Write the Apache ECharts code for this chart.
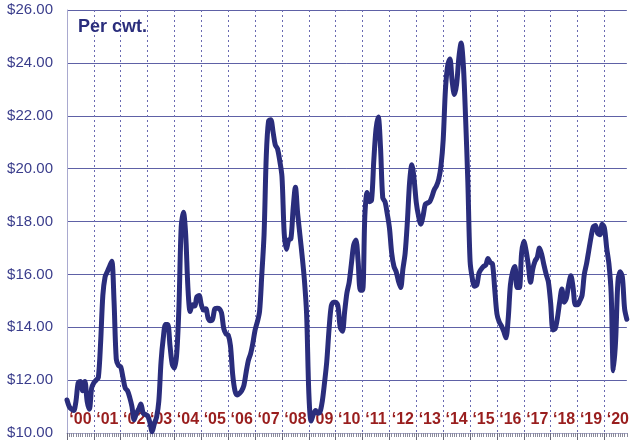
<!DOCTYPE html>
<html>
<head>
<meta charset="utf-8">
<script src="https://cdn.jsdelivr.net/npm/echarts@6/dist/echarts.min.js"></script>
<style>
html,body{margin:0;padding:0;background:#fff;}
#chart{width:632px;height:445px;}
</style>
</head>
<body>
<div id="chart"></div>
<script>
// Monthly price per cwt, Jan..Dec of each year (2020 ends in November)
var years = ['2000','2001','2002','2003','2004','2005','2006','2007','2008','2009','2010',
             '2011','2012','2013','2014','2015','2016','2017','2018','2019','2020'];
var yearLabels = ['‘00','‘01','‘02','‘03','‘04','‘05','‘06','‘07','‘08','‘09','‘10',
                  '‘11','‘12','‘13','‘14','‘15','‘16','‘17','‘18','‘19','‘20'];
var p2000 = [11.25, 11.0, 10.9, 10.85, 11.2, 11.9, 11.95, 11.6, 11.95, 11.2, 10.9, 11.7];
var p2001 = [11.9, 12.0, 12.1, 13.4, 15.2, 15.9, 16.1, 16.3, 16.5, 15.0, 12.8, 12.55];
var p2002 = [12.5, 12.1, 11.7, 11.6, 11.35, 11.0, 10.5, 10.75, 10.9, 11.1, 10.75, 10.7];
var p2003 = [10.65, 10.4, 10.05, 10.35, 10.6, 11.2, 12.7, 13.6, 14.1, 14.1, 13.3, 12.6];
var p2004 = [12.45, 13.0, 14.8, 17.8, 18.35, 17.5, 15.5, 14.6, 14.85, 14.8, 15.15, 15.2];
var p2005 = [14.85, 14.65, 14.7, 14.35, 14.25, 14.3, 14.7, 14.72, 14.7, 14.55, 13.95, 13.75];
var p2006 = [13.7, 13.3, 12.2, 11.6, 11.44, 11.5, 11.6, 11.8, 12.3, 12.75, 13.0, 13.4];
var p2007 = [13.9, 14.2, 14.6, 16.0, 17.5, 20.5, 21.8, 21.85, 21.4, 20.9, 20.75, 20.3];
var p2008 = [19.7, 17.55, 16.95, 17.3, 17.35, 18.5, 19.3, 18.3, 17.5, 16.7, 15.8, 14.5];
var p2009 = [11.5, 10.45, 10.7, 10.85, 10.75, 10.8, 11.2, 11.9, 12.7, 13.9, 14.8, 14.95];
var p2010 = [14.95, 14.8, 14.0, 13.85, 14.6, 15.3, 15.7, 16.4, 17.1, 17.3, 16.5, 15.4];
var p2011 = [15.4, 18.2, 19.1, 18.75, 18.8, 20.3, 21.5, 21.95, 20.8, 18.9, 18.75, 18.3];
var p2012 = [17.75, 16.8, 16.3, 16.1, 15.75, 15.5, 16.2, 16.8, 18.0, 19.5, 20.15, 19.6];
var p2013 = [18.7, 18.2, 17.9, 18.2, 18.65, 18.7, 18.75, 18.95, 19.2, 19.35, 19.6, 20.1];
var p2014 = [21.1, 23.0, 23.9, 24.15, 23.3, 22.8, 23.2, 24.2, 24.75, 23.9, 21.9, 19.5];
var p2015 = [16.5, 15.85, 15.55, 15.6, 16.05, 16.2, 16.3, 16.35, 16.6, 16.45, 16.4, 15.45];
var p2016 = [14.5, 14.2, 14.05, 13.85, 13.6, 14.3, 15.6, 16.1, 16.3, 15.5, 15.5, 16.8];
var p2017 = [17.25, 16.9, 16.35, 15.7, 16.2, 16.5, 16.65, 17.0, 16.75, 16.35, 16.0, 15.7];
var p2018 = [14.9, 13.9, 13.95, 14.35, 14.95, 15.45, 14.95, 15.1, 15.6, 15.95, 15.5, 14.85];
var p2019 = [14.85, 15.0, 15.2, 16.0, 16.4, 16.9, 17.4, 17.8, 17.85, 17.55, 17.5, 17.9];
var p2020 = [17.75, 17.0, 16.4, 15.3, 12.35, 13.5, 15.7, 16.1, 15.9, 14.7, 14.3];
var yTicks = [10, 12, 14, 16, 18, 20, 22, 24, 26];

var yearly = [p2000,p2001,p2002,p2003,p2004,p2005,p2006,p2007,p2008,p2009,p2010,
              p2011,p2012,p2013,p2014,p2015,p2016,p2017,p2018,p2019,p2020];
var months = [], prices = [];
yearly.forEach(function (arr, yi) {
  arr.forEach(function (v, mi) {
    months.push(years[yi] + '-' + (mi + 1));
    prices.push(v);
  });
});

var chart = echarts.init(document.getElementById('chart'), null, {renderer: 'canvas'});
var navy = '#2A2D7C';
chart.setOption({
  animation: false,
  backgroundColor: '#ffffff',
  title: {
    text: 'Per cwt.',
    left: 73, top: 13,
    textStyle: {fontFamily: 'Liberation Sans, Arial, sans-serif', fontSize: 18, fontWeight: 'bold', color: navy}
  },
  grid: {left: 67, right: 0, top: 10, bottom: 12, containLabel: false},
  xAxis: [{
    type: 'category',
    data: months,
    boundaryGap: false,
    axisLine: {show: true, lineStyle: {color: '#A9A9CF', width: 1}},
    axisTick: {show: true, interval: 0, length: 4, lineStyle: {color: '#8A8A9A'}},
    axisLabel: {
      show: true, inside: true, margin: 5,
      interval: function (i) { return i % 12 === 6; },
      formatter: function (v, i) { return yearLabels[Math.floor(i / 12)]; },
      fontFamily: 'Liberation Sans, Arial, sans-serif',
      fontSize: 16, fontWeight: 'bold', color: '#991E1E'
    },
    splitLine: {
      show: true,
      interval: function (i) { return i % 12 === 0 && i > 0; },
      lineStyle: {color: '#6A6AB2', width: 1, type: [2, 3]}
    }
  }, {
    type: 'category',
    data: months,
    boundaryGap: false,
    position: 'bottom',
    axisLine: {show: false},
    axisTick: {show: true, interval: function (i) { return i % 12 === 0; }, length: 7, lineStyle: {color: '#6A6A7A'}},
    axisLabel: {show: false},
    splitLine: {show: false}
  }],
  yAxis: {
    type: 'value',
    min: yTicks[0], max: yTicks[yTicks.length - 1], interval: 2,
    axisLine: {show: true, lineStyle: {color: '#A9A9CF'}},
    axisTick: {show: false},
    axisLabel: {
      margin: 14,
      formatter: function (v) { return '$' + v.toFixed(2); },
      fontFamily: 'Liberation Sans, Arial, sans-serif',
      fontSize: 15, color: '#3A3D8C'
    },
    splitLine: {show: true, lineStyle: {color: '#5E61A6', width: 1}}
  },
  series: [{
    type: 'line',
    data: prices,
    xAxisIndex: 0,
    smooth: 0.3,
    showSymbol: false,
    lineStyle: {color: navy, width: 5, cap: 'round', join: 'round'},
    z: 5
  }]
});
</script>
</body>
</html>
